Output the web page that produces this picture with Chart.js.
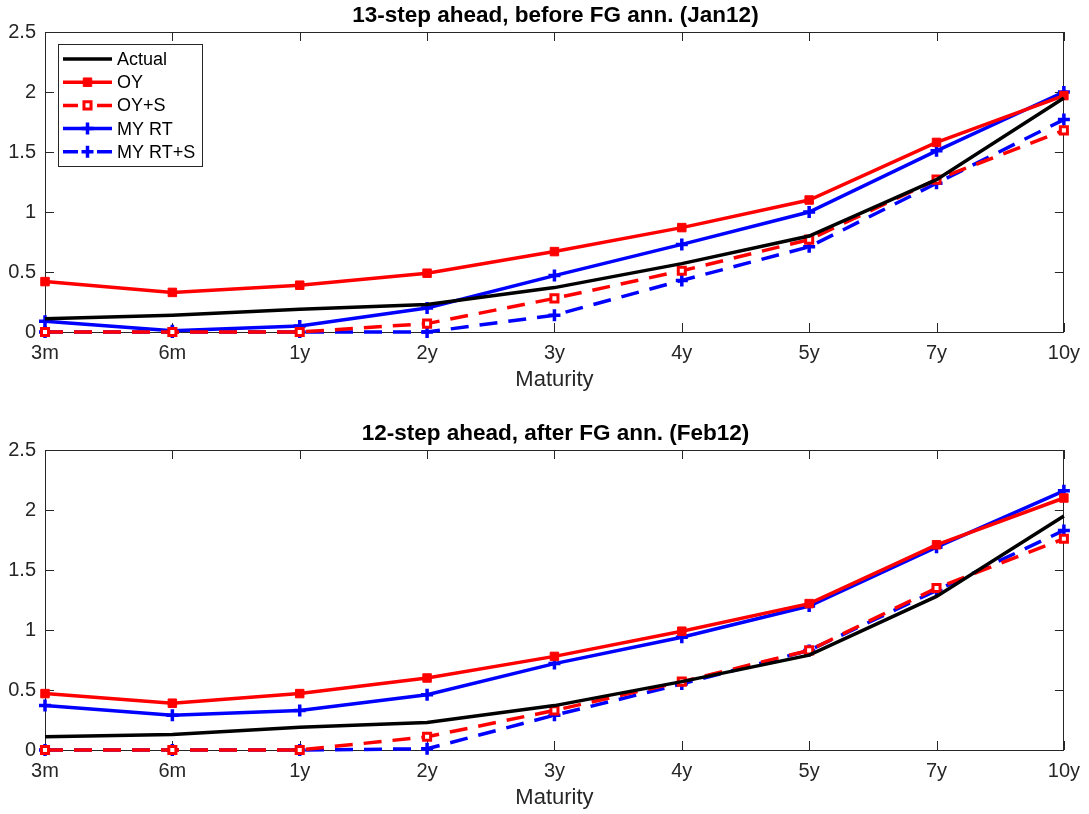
<!DOCTYPE html>
<html>
<head>
<meta charset="utf-8">
<script src="https://cdn.jsdelivr.net/npm/chart.js@4/dist/chart.umd.min.js"></script>
<style>
  body { margin: 0; background: #fff; }
  #wrap { position: relative; width: 1089px; height: 814px; }
  canvas { position: absolute; left: 0; }
  #top { top: 0; }
  #bottom { top: 418px; }
</style>
</head>
<body>
<div id="wrap">
  <canvas id="top" width="1089" height="396"></canvas>
  <canvas id="bottom" width="1089" height="396"></canvas>
</div>
<script>
const maturities = ['3m', '6m', '1y', '2y', '3y', '4y', '5y', '7y', '10y'];
const yTicks = [0, 0.5, 1, 1.5, 2, 2.5];
const seriesNames = ['Actual', 'OY', 'OY+S', 'MY RT', 'MY RT+S'];

// 13-step ahead, before FG ann. (Jan12)
const actualJan = [0.11, 0.14, 0.19, 0.23, 0.37, 0.57, 0.80, 1.27, 1.95];
const oyJan     = [0.42, 0.33, 0.39, 0.49, 0.67, 0.87, 1.10, 1.58, 1.97];
const oySJan    = [0.00, 0.00, 0.00, 0.07, 0.28, 0.51, 0.77, 1.27, 1.68];
const myJan     = [0.09, 0.01, 0.05, 0.20, 0.47, 0.73, 1.00, 1.51, 2.00];
const mySJan    = [0.00, 0.00, 0.00, 0.00, 0.14, 0.43, 0.71, 1.24, 1.77];

// 12-step ahead, after FG ann. (Feb12)
const actualFeb = [0.11, 0.13, 0.19, 0.23, 0.37, 0.57, 0.79, 1.28, 1.95];
const oyFeb     = [0.47, 0.39, 0.47, 0.60, 0.78, 0.99, 1.22, 1.71, 2.10];
const oySFeb    = [0.00, 0.00, 0.00, 0.11, 0.33, 0.57, 0.83, 1.35, 1.76];
const myFeb     = [0.37, 0.29, 0.33, 0.46, 0.72, 0.94, 1.20, 1.69, 2.16];
const mySFeb    = [0.00, 0.00, 0.00, 0.01, 0.29, 0.55, 0.83, 1.33, 1.83];

const axisColor = '#262626';
const fontFamily = '"Liberation Sans", Arial, sans-serif';
const dash = [18, 11];

function makeDatasets(actual, oy, oyS, my, myS) {
    return [
        { label: seriesNames[0], data: actual, borderColor: '#000000', backgroundColor: '#000000',
          borderWidth: 3.5, pointRadius: 0 },
        { label: seriesNames[1], data: oy, borderColor: '#ff0000', backgroundColor: '#ff0000',
          borderWidth: 3.5, pointStyle: 'rect', pointRadius: 6, pointBorderWidth: 1 },
        { label: seriesNames[2], data: oyS, borderColor: '#ff0000', backgroundColor: '#ffffff',
          borderWidth: 3.5, borderDash: dash, pointStyle: 'rect', pointRadius: 5, pointBorderWidth: 3 },
        { label: seriesNames[3], data: my, borderColor: '#0000ff', backgroundColor: '#0000ff',
          borderWidth: 3.5, pointStyle: 'cross', pointRadius: 6, pointBorderWidth: 3.5 },
        { label: seriesNames[4], data: myS, borderColor: '#0000ff', backgroundColor: '#0000ff',
          borderWidth: 3.5, borderDash: dash, pointStyle: 'cross', pointRadius: 6, pointBorderWidth: 3.5 }
    ];
}

// box, inward ticks, title and legend the way the reference draws them
const framePlugin = {
    id: 'frame',
    beforeDatasetsDraw(chart) {
        const { ctx, chartArea: a, scales } = chart;
        const len = 9;
        ctx.save();
        ctx.strokeStyle = axisColor;
        ctx.lineWidth = 1;
        ctx.strokeRect(Math.round(a.left) + 0.5, Math.round(a.top) + 0.5,
            Math.round(a.width) - 1, Math.round(a.height));
        ctx.beginPath();
        scales.x.ticks.forEach((t, i) => {
            const px = Math.round(scales.x.getPixelForTick(i)) + 0.5;
            ctx.moveTo(px, a.bottom); ctx.lineTo(px, a.bottom - len);
            ctx.moveTo(px, a.top); ctx.lineTo(px, a.top + len);
        });
        scales.y.ticks.forEach(t => {
            const py = Math.round(scales.y.getPixelForValue(t.value)) + 0.5;
            ctx.moveTo(a.left, py); ctx.lineTo(a.left + len, py);
            ctx.moveTo(a.right, py); ctx.lineTo(a.right - len, py);
        });
        ctx.stroke();
        ctx.restore();
    },
    afterDraw(chart, args, opts) {
        const { ctx, chartArea: a } = chart;
        ctx.save();
        ctx.fillStyle = '#000';
        ctx.font = 'bold 22.5px ' + fontFamily;
        ctx.textAlign = 'center';
        ctx.textBaseline = 'middle';
        ctx.fillText(opts.title, (a.left + a.right) / 2 + 1, 16);

        if (opts.legend) {
            ctx.fillStyle = '#fff';
            ctx.fillRect(58, 44, 144, 122);
            ctx.strokeStyle = axisColor;
            ctx.lineWidth = 1;
            ctx.strokeRect(58.5, 44.5, 144, 122);
            ctx.font = '18px ' + fontFamily;
            ctx.textAlign = 'left';
            chart.data.datasets.forEach((ds, i) => {
                const y = 59 + i * 23.2;
                ctx.strokeStyle = ds.borderColor;
                ctx.lineWidth = ds.borderWidth;
                ctx.setLineDash([]);
                ctx.beginPath();
                if (ds.borderDash) {
                    ctx.moveTo(63, y); ctx.lineTo(78, y);
                    ctx.moveTo(97, y); ctx.lineTo(112, y);
                } else {
                    ctx.moveTo(63, y); ctx.lineTo(112, y);
                }
                ctx.stroke();
                if (ds.pointRadius > 0) {
                    ctx.fillStyle = ds.backgroundColor;
                    ctx.lineWidth = ds.pointBorderWidth;
                    Chart.helpers.drawPoint(ctx, {
                        pointStyle: ds.pointStyle, radius: ds.pointRadius,
                        borderWidth: ds.pointBorderWidth, rotation: 0
                    }, 87.5, y);
                }
                ctx.fillStyle = '#000';
                ctx.fillText(ds.label, 117, y + 1);
            });
        }
        ctx.restore();
    }
};

function makeChart(id, title, showLegend, datasets) {
    return new Chart(document.getElementById(id), {
        type: 'line',
        data: { labels: maturities, datasets: datasets },
        plugins: [framePlugin],
        options: {
            responsive: false,
            devicePixelRatio: 1,
            animation: false,
            layout: { padding: { top: 32, right: 21, left: 0, bottom: 0 } },
            elements: { line: { tension: 0 } },
            datasets: { line: { clip: false } },
            plugins: {
                legend: { display: false },
                tooltip: { enabled: false },
                frame: { title: title, legend: showLegend }
            },
            scales: {
                x: {
                    type: 'category',
                    offset: false,
                    grid: { display: false, drawTicks: false },
                    border: { display: false },
                    ticks: { color: axisColor, font: { family: fontFamily, size: 20 },
                             padding: 9, maxRotation: 0, autoSkip: false },
                    title: { display: true, text: 'Maturity', color: axisColor,
                             font: { family: fontFamily, size: 22 }, padding: { top: 0, bottom: 3 } },
                    afterFit(s) { s.height = 64; }
                },
                y: {
                    min: 0,
                    max: 2.5,
                    afterBuildTicks(s) { s.ticks = yTicks.map(v => ({ value: v })); },
                    grid: { display: false, drawTicks: false },
                    border: { display: false },
                    ticks: { color: axisColor, font: { family: fontFamily, size: 20 }, padding: 9,
                             callback: v => String(v) },
                    afterFit(s) { s.width = 45; }
                }
            }
        }
    });
}

makeChart('top', '13-step ahead, before FG ann. (Jan12)', true,
    makeDatasets(actualJan, oyJan, oySJan, myJan, mySJan));
makeChart('bottom', '12-step ahead, after FG ann. (Feb12)', false,
    makeDatasets(actualFeb, oyFeb, oySFeb, myFeb, mySFeb));
</script>
</body>
</html>
